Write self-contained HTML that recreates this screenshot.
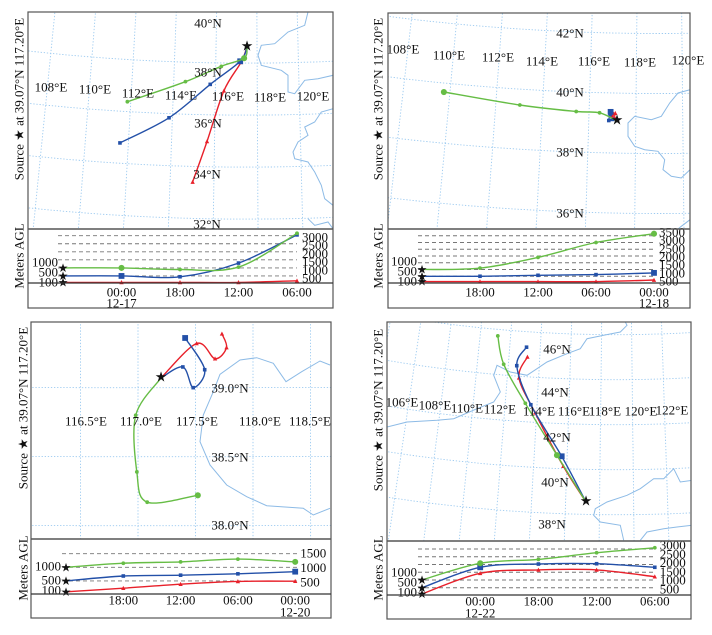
<!DOCTYPE html>
<html><head><meta charset="utf-8">
<style>
html,body{margin:0;padding:0;background:#fff;width:712px;height:635px;overflow:hidden;}
svg{display:block;font-family:"Liberation Serif",serif;overflow:hidden;}
</style></head>
<body>
<svg id="chart" width="712" height="635" viewBox="0 0 712 635" xmlns="http://www.w3.org/2000/svg"></svg>
<script>
// ---------- data: backward trajectories (lon / lat, every 6 h) ----------
const p1RedLon=[117.2,116.91,116.1,115.34,114.72];
const p1RedLat=[39.07,38.48,37.38,35.42,33.85];
const p1BlueLon=[117.2,116.87,115.44,113.53,111.3];
const p1BlueLat=[39.07,38.52,37.62,36.29,35.23];
const p1GreenLon=[117.2,117.06,115.96,114.25,111.53];
const p1GreenLat=[39.07,38.64,38.32,37.7,36.83];

const p2RedLon=[117.2,117.1,116.98,117.05,117.12];
const p2RedLat=[39.07,39.18,39.24,39.3,39.33];
const p2BlueLon=[117.2,117.0,116.85,116.9,116.92];
const p2BlueLat=[39.07,39.12,39.08,39.28,39.37];
const p2GreenLon=[117.2,116.45,115.45,113.03,109.74];
const p2GreenLat=[39.07,39.33,39.35,39.47,39.7];

const p3RedLon=[117.2,117.51,117.67,117.77,117.73];
const p3RedLat=[39.07,39.32,39.21,39.29,39.39];
const p3BlueLon=[117.2,117.39,117.48,117.58,117.41];
const p3BlueLat=[39.07,39.15,39.0,39.13,39.36];
const p3GreenLon=[117.2,116.98,116.99,117.08,117.52];
const p3GreenLat=[39.07,38.8,38.39,38.17,38.22];

const p4RedLon=[117.2,115.79,113.91,112.75,113.2];
const p4RedLat=[39.07,40.63,42.94,44.45,45.4];
const p4BlueLon=[117.2,115.67,113.61,112.55,113.1];
const p4BlueLat=[39.07,41.07,43.29,44.98,45.83];
const p4GreenLon=[117.2,115.38,113.26,111.7,111.16];
const p4GreenLat=[39.07,41.11,43.34,45.0,46.23];

// ---------- data: heights (m AGL) ----------
const p1RedH=[100,100,100,100,200];
const p1BlueH=[500,500,450,1300,3050];
const p1GreenH=[1000,1000,900,1050,3150];
const p2RedH=[100,100,100,100,220];
const p2BlueH=[500,500,570,620,750];
const p2GreenH=[1000,1100,1900,3000,3650];
const p3RedH=[100,230,380,480,490];
const p3BlueH=[500,680,710,760,840];
const p3GreenH=[1000,1150,1200,1300,1200];
const p4RedH=[100,1430,1650,1650,1210];
const p4BlueH=[500,1820,2030,2050,1820];
const p4GreenH=[1000,2080,2330,2760,3080];

// ---------- tick labels ----------
const p1Times=["00:00","18:00","12:00","06:00"];
const p2Times=["18:00","12:00","06:00","00:00"];
const p3Times=["18:00","12:00","06:00","00:00"];
const p4Times=["00:00","18:00","12:00","06:00"];
const p1Dates=["12-17",1];
const p2Dates=["12-18",4];
const p3Dates=["12-20",4];
const p4Dates=["12-22",1];
const p1HTicks=[500,1000,1500,2000,2500,3000];
const p2HTicks=[500,1000,1500,2000,2500,3000,3500];
const p3HTicks=[500,1000,1500];
const p4HTicks=[500,1000,1500,2000,2500,3000];
const startHeights=[100,500,1000];

const p1MapLabels=[["40°N",208,23],["38°N",208,72],["36°N",208,123],["34°N",207,174],["32°N",207,224],
 ["108°E",51,87],["110°E",95,89],["112°E",138,93],["114°E",181,95],["116°E",228,96],["118°E",270,97],["120°E",313,96]];
const p2MapLabels=[["42°N",570,33],["40°N",570,92],["38°N",570,152],["36°N",570,213],
 ["108°E",403,49],["110°E",449,55],["112°E",498,57],["114°E",542,61],["116°E",594,61],["118°E",640,62],["120°E",688,60]];
const p3MapLabels=[["39.0°N",230,388],["38.5°N",230,457],["38.0°N",230,525],
 ["116.5°E",86,421],["117.0°E",141,421],["117.5°E",197,421],["118.0°E",260,421],["118.5°E",310,421]];
const p4MapLabels=[["46°N",557,349],["44°N",555,392],["42°N",557,437],["40°N",555,482],["38°N",552,524],
 ["106°E",402,402],["108°E",435,405],["110°E",467,408],["112°E",500,409],["114°E",539,411],["116°E",574,411],["118°E",605,411],["120°E",641,411],["122°E",672,410]];

// ---------- coastlines (decor, in zoomed coordinates of each panel) ----------
const coast1=[[[840,0],[830,40],[780,60],[740,95],[700,100],[690,130],[700,160],[760,175],[780,190],[780,240],[800,245],[830,205],[870,200],[915,190]],
 [[915,290],[880,300],[860,330],[830,345],[840,370],[810,390],[795,420],[800,440],[840,450],[860,480],[880,520],[890,560],[915,580]],
 [[840,620],[860,640],[900,630],[915,650]]];
const coast2=[[[906,230],[870,240],[845,270],[820,310],[790,320],[740,310],[720,330],[720,370],[740,400],[770,410],[810,415],[830,440],[825,470],[850,490],[880,495],[906,470]],
 [[906,620],[880,640],[870,648]]];
const coast3=[[[990,150],[960,138],[905,170],[858,200],[820,145],[770,128],[720,135],[660,178],[640,230],[610,300],[600,380],[630,450],[680,510],[740,545],[800,572],[910,580],[940,600],[990,580]]];
const coast4=[[[0,315],[60,300],[150,295],[200,290],[270,260],[320,240],[340,210],[320,160],[330,130],[370,150],[420,160],[450,140],[480,120],[540,95],[580,80],[600,50],[650,40],[700,30],[720,10],[715,0]],
 [[915,475],[880,480],[860,440],[830,470],[800,470],[760,500],[720,520],[660,540],[625,560],[620,580],[640,600],[700,610],[710,655]],
 [[760,655],[780,630],[830,620],[870,615],[915,610]]];

// ---------- panel layout ----------
const panels=[
 {name:'panel-12-17',L:28,T:12,R:333,B:308,mapB:229,sx:247,sy:47,k:26,lp:20.5,n:0.6,lc:117.2,gls:0.45,gns:-0.31,step:2,lonR:[100,130],latR:[26,48],
  ylx:19,yly:99,mly:256,zo:[28,12],coast:coast1,labels:p1MapLabels,
  red:[p1RedLon,p1RedLat,p1RedH],blue:[p1BlueLon,p1BlueLat,p1BlueH],green:[p1GreenLon,p1GreenLat,p1GreenH],
  x0:63,dx:58.5,base:283,hb:284,hs:0.0161,d0:58,d1:297,ticks:p1HTicks,labA:278,labS:0.0164,times:p1Times,dates:p1Dates,ty:292,dty:303,mid:1,
  leftLab:[282,272,262]},
 {name:'panel-12-18',L:388,T:13,R:690,B:308,mapB:229,sx:617,sy:121,k:30,lp:23.5,n:0.6,lc:119,gls:0,gns:0,step:2,lonR:[100,130],latR:[30,48],
  ylx:378,yly:99,mly:256,zo:[388,13],coast:coast2,labels:p2MapLabels,
  red:[p2RedLon,p2RedLat,p2RedH],blue:[p2BlueLon,p2BlueLat,p2BlueH],green:[p2GreenLon,p2GreenLat,p2GreenH],
  x0:422,dx:58,base:283,hb:283,hs:0.0135,d0:418,d1:655,ticks:p2HTicks,labA:281,labS:0.01633,times:p2Times,dates:p2Dates,ty:292,dty:303,mid:4,
  leftLab:[281,271,261]},
 {name:'panel-12-20',L:31,T:322,R:331,B:618,mapB:539,sx:161,sy:378,k:138,lp:115,n:0.02,lc:117.2,gls:0,gns:0,step:0.5,lonR:[115.5,119.5],latR:[37.5,40],
  ylx:23,yly:408,mly:568,zo:[0,315],coast:coast3,labels:p3MapLabels,
  red:[p3RedLon,p3RedLat,p3RedH],blue:[p3BlueLon,p3BlueLat,p3BlueH],green:[p3GreenLon,p3GreenLat,p3GreenH],
  x0:66,dx:57.3,base:594,hb:594.5,hs:0.0272,d0:62,d1:298,ticks:p3HTicks,labA:582,labS:0.029,times:p3Times,dates:p3Dates,ty:600,dty:612,mid:4,
  leftLab:[590,580,566]},
 {name:'panel-12-22',L:387,T:322,R:691,B:619,mapB:541,sx:586,sy:502,k:22.5,lp:17,n:0.65,lc:119,gls:0.52,gns:0,step:2,lonR:[98,136],latR:[30,54],
  ylx:378,yly:410,mly:568,zo:[387,322],coast:coast4,labels:p4MapLabels,
  red:[p4RedLon,p4RedLat,p4RedH],blue:[p4BlueLon,p4BlueLat,p4BlueH],green:[p4GreenLon,p4GreenLat,p4GreenH],
  x0:422,dx:58.2,base:595,hb:595.5,hs:0.0155,d0:418,d1:655,ticks:p4HTicks,labA:589,labS:0.0176,times:p4Times,dates:p4Dates,ty:601,dty:613,mid:1,
  leftLab:[592,582,572]}
];

const COL={red:'#e8202a',blue:'#2350a8',green:'#66bd45'};
const NS='http://www.w3.org/2000/svg';
const svg=document.getElementById('chart');
function mk(tag,attrs,parent){const e=document.createElementNS(NS,tag);for(const k in attrs)e.setAttribute(k,attrs[k]);(parent||svg).appendChild(e);return e;}
const RAD=Math.PI/180;

function rawProj(P,lon,lat){
  const rho0=P.lp/(P.n*RAD);
  const th=P.n*(lon-P.lc)*RAD;
  const rho=rho0+(39.07-lat)*P.k;
  return [rho*Math.sin(th),rho*Math.cos(th)];
}
function proj(P,lon,lat){
  const a=rawProj(P,lon,lat),o=rawProj(P,117.2,39.07);
  return [P.sx+a[0]-o[0],P.sy+a[1]-o[1]];
}
function inMap(P,p){return p[0]>=P.L-12&&p[0]<=P.R+12&&p[1]>=P.T-12&&p[1]<=P.mapB+12;}
function xT(P,i){return P.x0+i*P.dx;}
function yH(P,h){return P.hb-h*P.hs;}

function smooth(pts){
  let d='M'+pts[0][0].toFixed(1)+','+pts[0][1].toFixed(1);
  for(let i=0;i<pts.length-1;i++){
    const p0=pts[i-1]||pts[i],p1=pts[i],p2=pts[i+1],p3=pts[i+2]||p2;
    const c1=[p1[0]+(p2[0]-p0[0])/6,p1[1]+(p2[1]-p0[1])/6];
    const c2=[p2[0]-(p3[0]-p1[0])/6,p2[1]-(p3[1]-p1[1])/6];
    d+=' C'+c1.map(v=>v.toFixed(1)).join(',')+' '+c2.map(v=>v.toFixed(1)).join(',')+' '+p2[0].toFixed(1)+','+p2[1].toFixed(1);
  }
  return d;
}
function marker(g,kind,x,y,big){
  if(kind==='red')big=false;
  const s=big?2.9:1.8;let m;
  if(kind==='red'){m=mk('polygon',{points:`${x},${y-s*1.3} ${x-s*1.2},${y+s} ${x+s*1.2},${y+s}`,fill:COL.red},g);}
  else if(kind==='blue'){m=mk('rect',{x:x-s,y:y-s,width:2*s,height:2*s,fill:COL.blue},g);}
  else {m=mk('circle',{cx:x,cy:y,r:s*1.05,fill:COL.green},g);}
  
  
}
function txt(g,s,x,y,anchor,size){
  const t=mk('text',{x:x,y:y,'text-anchor':anchor||'middle','dominant-baseline':'central','font-size':size||13,fill:'#111'},g);
  t.textContent=s;return t;
}

panels.forEach((P,pi)=>{
  const g=mk('g',{});
  
  
  const cid='clip'+pi;
  const defs=mk('defs',{},g);
  const cp=mk('clipPath',{id:cid},defs);
  mk('rect',{x:P.L,y:P.T,width:P.R-P.L,height:P.mapB-P.T},cp);

  const map=mk('g',{'clip-path':`url(#${cid})`},g);
  
  
  const grid=mk('g',{fill:'none',stroke:'#9ccaf0','stroke-width':0.9,'stroke-dasharray':'1.3 1.8'},map);
  
  
  for(let lon=P.lonR[0];lon<=P.lonR[1]+1e-6;lon+=P.step){
    const pts=[];for(let lat=P.latR[0];lat<=P.latR[1];lat+=(P.latR[1]-P.latR[0])/60){const p=proj(P,lon+P.gns,lat);if(inMap(P,p))pts.push(p);}
    if(pts.length<2)continue;
    const l=mk('polyline',{points:pts.map(p=>p[0].toFixed(1)+','+p[1].toFixed(1)).join(' ')},grid);
    
    
  }
  for(let lat=P.latR[0];lat<=P.latR[1]+1e-6;lat+=P.step){
    const pts=[];for(let lon=P.lonR[0];lon<=P.lonR[1];lon+=(P.lonR[1]-P.lonR[0])/80){const p=proj(P,lon,lat+P.gls);if(inMap(P,p))pts.push(p);}
    if(pts.length<2)continue;
    const l=mk('polyline',{points:pts.map(p=>p[0].toFixed(1)+','+p[1].toFixed(1)).join(' ')},grid);
    
    
  }
  P.coast.forEach(c=>{
    const l=mk('polyline',{points:c.map(p=>(P.zo[0]+p[0]/3).toFixed(1)+','+(P.zo[1]+p[1]/3).toFixed(1)).join(' '),fill:'none',stroke:'#8dbbe6','stroke-width':1},map);
    
    
  });
  ['red','blue','green'].forEach(kind=>{
    const [lons,lats]=P[kind];
    const pts=lons.map((lo,i)=>proj(P,lo,lats[i]));
    const pth=mk('path',{d:smooth(pts),fill:'none',stroke:COL[kind],'stroke-width':1.4},map);
    
    
    pts.forEach((p,i)=>{if(i>0)marker(map,kind,p[0],p[1],i===P.mid);});
  });
  const st=txt(map,'★',P.sx,P.sy,'middle',14);
  
  
  P.labels.forEach(l=>{
    const t=txt(g,l[0],l[1],l[2],'middle',13);
    
    
  });

  const alt=mk('g',{},g);
  
  
  P.ticks.forEach(h=>{
    const l=mk('line',{x1:P.d0,x2:P.d1,y1:yH(P,h),y2:yH(P,h),stroke:'#777','stroke-width':0.9,'stroke-dasharray':'4 3'},alt);
    
    
    const t=txt(alt,String(h),xT(P,4)+5,P.labA-(h-500)*P.labS,'start',13);
    
    
  });
  startHeights.forEach((h,j)=>{
    const t=txt(alt,String(h),P.x0-5,P.leftLab[j],'end',13);
    
    
  });
  ['red','blue','green'].forEach(kind=>{
    const H=P[kind][2];
    const pts=H.map((h,i)=>[xT(P,i),yH(P,h)]);
    const pth=mk('path',{d:smooth(pts),fill:'none',stroke:COL[kind],'stroke-width':1.4},alt);
    
    
    pts.forEach((p,i)=>{if(i>0)marker(alt,kind,p[0],p[1],i===P.mid);});
    const s=txt(alt,'★',pts[0][0],pts[0][1],'middle',12);
    
    
  });
  P.times.forEach((tl,i)=>{
    const t=txt(alt,tl,xT(P,i+1),P.ty,'middle',13);
    
    
  });
  const dt=txt(alt,P.dates[0],xT(P,P.dates[1]),P.dty,'middle',13);
  
  

  const fr=mk('rect',{x:P.L,y:P.T,width:P.R-P.L,height:P.B-P.T,fill:'none',stroke:'#555','stroke-width':1.2},g);
  
  
  const sep=mk('line',{x1:P.L,x2:P.R,y1:P.mapB,y2:P.mapB,stroke:'#555','stroke-width':1.5},g);
  
  
  const bl=mk('line',{x1:P.L,x2:P.R,y1:P.base,y2:P.base,stroke:'#333','stroke-width':1.2},g);
  
  

  const yl=mk('text',{x:0,y:0,transform:`translate(${P.ylx},${P.yly}) rotate(-90)`,'text-anchor':'middle','dominant-baseline':'central','font-size':13,fill:'#111'},g);
  yl.textContent='Source ★ at 39.07°N 117.20°E';
  
  
  const ml=mk('text',{x:0,y:0,transform:`translate(${P.ylx},${P.mly}) rotate(-90)`,'text-anchor':'middle','dominant-baseline':'central','font-size':13,fill:'#111'},g);
  ml.textContent='Meters AGL';
  
  
});
</script>
</body></html>
